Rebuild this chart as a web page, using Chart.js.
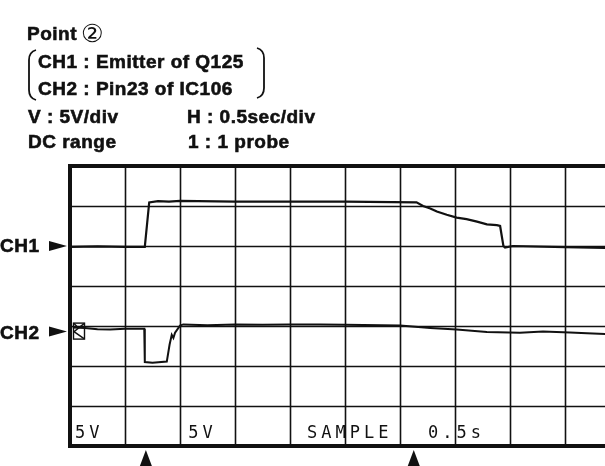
<!DOCTYPE html>
<html>
<head>
<meta charset="utf-8">
<script src="https://cdn.jsdelivr.net/npm/chart.js@4"></script>
<style>
  body { margin: 0; background: #fff; }
  canvas { display: block; }
</style>
</head>
<body>
<canvas id="scope" width="605" height="466"></canvas>
<script>
// Screen is read in divisions: x = 0.5 s/div, y = 5 V/div (0 = bottom graticule line)
const ch1X = [0, 0.5, 1.0, 1.36, 1.44, 1.6, 1.8, 2.0, 3.0, 4.0, 5.0, 6.3, 6.42, 6.55, 6.67, 6.85, 7.03, 7.21, 7.4, 7.58, 7.76, 7.82, 7.85, 7.88, 7.91, 8.05, 9.0, 9.73];
const ch1Y = [4.98, 4.99, 4.98, 4.98, 6.09, 6.12, 6.11, 6.13, 6.11, 6.11, 6.11, 6.09, 6.0, 5.94, 5.86, 5.78, 5.71, 5.67, 5.61, 5.54, 5.52, 5.5, 5.25, 5.0, 4.96, 5.0, 4.97, 4.95];

const ch2X = [0.05, 0.27, 0.5, 0.73, 1.0, 1.35, 1.36, 1.5, 1.76, 1.81, 1.85, 1.88, 1.91, 2.0, 2.06, 2.5, 3.0, 3.5, 4.0, 4.55, 5.0, 6.0, 6.55, 7.03, 7.58, 8.18, 8.6, 9.09, 9.4, 9.73];
const ch2Y = [2.96, 2.95, 2.92, 2.91, 2.93, 2.93, 2.1, 2.08, 2.11, 2.53, 2.78, 2.7, 2.83, 3.01, 3.04, 3.02, 3.04, 3.03, 3.04, 3.04, 3.03, 3.01, 2.95, 2.91, 2.85, 2.83, 2.86, 2.84, 2.82, 2.8];

const groundLevels = [5.0, 2.86];          // CH1, CH2 reference markers
const triggerMarks = [1.38, 6.25];          // arrows under the screen
const readouts = ['5V', '5V', 'SAMPLE', '0.5s'];
const readoutPos = [0.09, 2.15, 4.31, 6.51];

const toPoints = (xs, ys) => xs.map((v, i) => ({ x: v, y: ys[i] }));

// bold print text, slightly thickened like the scanned original
function boldText(ctx, t, x, y) {
  ctx.fillText(t, x, y);
  ctx.strokeText(t, x, y);
}

const scopePlugin = {
  id: 'scope',
  beforeDatasetsDraw(chart) {
    const { ctx, chartArea: a, scales: { x, y } } = chart;
    ctx.save();
    ctx.strokeStyle = '#111';
    ctx.lineWidth = 1.6;
    for (let i = 1; i <= 9; i++) {
      const px = Math.round(x.getPixelForValue(i)) + 0.5;
      ctx.beginPath(); ctx.moveTo(px, a.top); ctx.lineTo(px, a.bottom); ctx.stroke();
    }
    for (let j = 1; j < 7; j++) {
      const py = Math.round(y.getPixelForValue(j)) + 0.5;
      ctx.beginPath(); ctx.moveTo(a.left, py); ctx.lineTo(a.right, py); ctx.stroke();
    }
    // thick frame
    ctx.lineWidth = 4;
    ctx.beginPath();
    ctx.moveTo(a.right, a.top); ctx.lineTo(a.left, a.top);
    ctx.lineTo(a.left, a.bottom); ctx.lineTo(a.right, a.bottom);
    ctx.stroke();

    // scope readouts
    ctx.fillStyle = '#111';
    ctx.font = '17px "DejaVu Sans Mono", monospace';
    ctx.letterSpacing = '4px';
    ctx.textBaseline = 'alphabetic';
    readouts.forEach((t, i) => ctx.fillText(t, x.getPixelForValue(readoutPos[i]), a.bottom - 8));
    ctx.restore();
  },
  afterDraw(chart) {
    const { ctx, chartArea: a, scales: { x, y } } = chart;
    ctx.save();
    ctx.fillStyle = '#111';
    ctx.strokeStyle = '#111';
    ctx.lineWidth = 0.6;
    ctx.font = 'bold 19px "Liberation Sans", Arial, sans-serif';
    ctx.letterSpacing = '0.5px';
    boldText(ctx, 'Point', 27, 40);
    ctx.font = '25px "DejaVu Sans", sans-serif';
    ctx.fillText('②', 81, 42);
    ctx.font = 'bold 19px "Liberation Sans", Arial, sans-serif';
    boldText(ctx, 'CH1 : Emitter of Q125', 38, 68);
    boldText(ctx, 'CH2 : Pin23 of IC106', 38, 95);
    boldText(ctx, 'V : 5V/div', 28, 123);
    boldText(ctx, 'H : 0.5sec/div', 187, 123);
    boldText(ctx, 'DC range', 28, 148);
    boldText(ctx, '1 : 1 probe', 188, 148);

    // brackets round the channel lines
    ctx.lineWidth = 1.8;
    ctx.beginPath();
    ctx.moveTo(36, 50); ctx.quadraticCurveTo(29, 52, 29, 60);
    ctx.lineTo(29, 90); ctx.quadraticCurveTo(29, 98, 36, 100);
    ctx.stroke();
    ctx.beginPath();
    ctx.moveTo(257, 48); ctx.quadraticCurveTo(264, 50, 264, 58);
    ctx.lineTo(264, 88); ctx.quadraticCurveTo(264, 96, 257, 98);
    ctx.stroke();

    // channel labels with arrows
    ctx.lineWidth = 0.6;
    ['CH1', 'CH2'].forEach((lab, i) => {
      const py = y.getPixelForValue(groundLevels[i]);
      boldText(ctx, lab, 0, py + 6 + (i ? 1 : 0));
      ctx.beginPath();
      ctx.moveTo(49, py - 5); ctx.lineTo(67, py); ctx.lineTo(49, py + 5);
      ctx.closePath(); ctx.fill();
    });

    // CH2 ground marker box
    const gy = y.getPixelForValue(groundLevels[1]);
    ctx.lineWidth = 1.4;
    ctx.strokeRect(73.5, gy - 8.5, 11, 16);
    ctx.beginPath();
    ctx.moveTo(84, gy - 8); ctx.lineTo(74, gy); ctx.lineTo(84, gy + 7);
    ctx.moveTo(74, gy - 8); ctx.lineTo(79, gy - 3);
    ctx.stroke();

    // trigger arrows below the screen
    triggerMarks.forEach(v => {
      const px = x.getPixelForValue(v);
      ctx.beginPath();
      ctx.moveTo(px, a.bottom + 4); ctx.lineTo(px - 6, 466); ctx.lineTo(px + 6, 466);
      ctx.closePath(); ctx.fill();
    });
    ctx.restore();
  }
};

new Chart(document.getElementById('scope'), {
  type: 'line',
  data: {
    datasets: [
      { label: 'CH1', data: toPoints(ch1X, ch1Y), borderColor: '#111', borderWidth: 2.2, pointRadius: 0, tension: 0 },
      { label: 'CH2', data: toPoints(ch2X, ch2Y), borderColor: '#111', borderWidth: 2, pointRadius: 0, tension: 0 }
    ]
  },
  options: {
    responsive: false,
    animation: false,
    layout: { padding: { left: 70, top: 166, right: 0, bottom: 20 } },
    plugins: { legend: { display: false }, tooltip: { enabled: false } },
    scales: {
      x: { type: 'linear', min: 0, max: 9.727, display: false },
      y: { type: 'linear', min: 0, max: 7, display: false }
    }
  },
  plugins: [scopePlugin]
});
</script>
</body>
</html>
